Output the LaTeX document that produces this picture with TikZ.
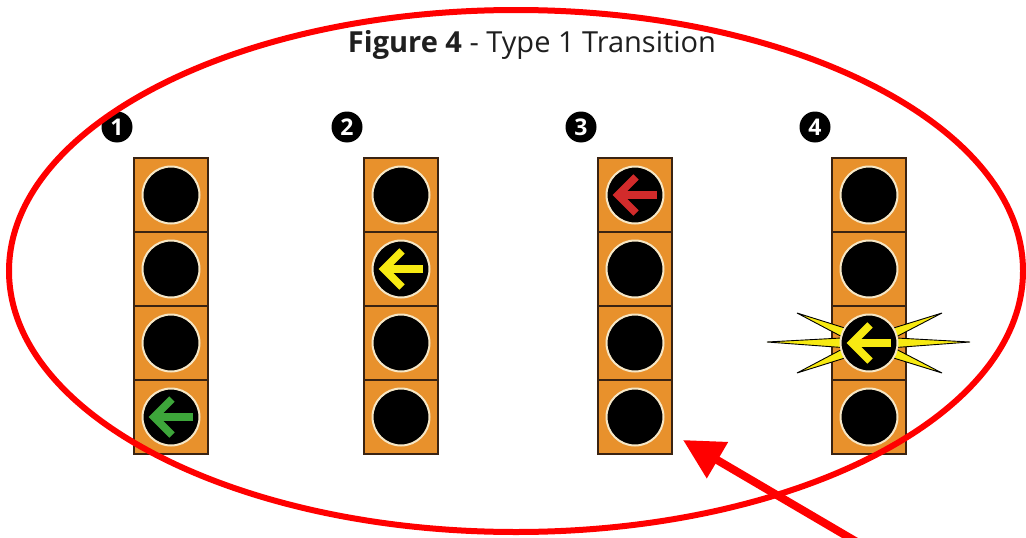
\documentclass[tikz,border=0pt]{standalone}
\usepackage{fontspec}
\setmainfont{Open Sans}
\usetikzlibrary{arrows.meta,calc,shapes.geometric}
\definecolor{sigorange}{HTML}{E8912C}
\definecolor{boxbrown}{HTML}{3A2312}
\definecolor{lampring}{HTML}{F6E7C6}
\definecolor{arrgreen}{HTML}{3DA63A}
\definecolor{arryellow}{HTML}{F7EA12}
\definecolor{arrred}{HTML}{D22B2B}
\definecolor{markred}{HTML}{FF0000}
\tikzset{
  headbox/.style={draw=boxbrown, fill=sigorange, line width=1.6pt, minimum size=74pt, inner sep=0pt, outer sep=0pt},
  lamp/.style={circle, fill=black, draw=lampring, line width=2pt, minimum size=57pt, inner sep=0pt},
  badge/.style={circle, fill=black, minimum size=31pt, inner sep=0pt, text=white, font=\fontsize{23}{23}\selectfont\bfseries},
  larrow/.style={line width=7.5pt, line cap=butt, line join=miter},
  spike/.style={fill=arryellow, draw=black, line width=0.9pt, line join=miter},
  redline/.style={draw=markred, line width=6pt},
}
\begin{document}
\begin{tikzpicture}[x=1pt,y=-1pt]
\useasboundingbox (0,0) rectangle (1026,538);
\fill[white] (0,0) rectangle (1026,538);
\node[font=\fontsize{29}{29}\selectfont, text=black!88] (title) at (532,45) {\textbf{Figure 4} - Type 1 Transition};
\foreach \h/\x in {1/171,2/401,3/635,4/869} {
  \foreach \k/\y in {1/195,2/269,3/343,4/417} {
    \node[headbox] (b\h\k) at (\x,\y) {};
  }
  \node[badge] (n\h) at (\x-54,127) {\h};
}
% burst on head 4, third lamp
\coordinate (bc) at (b43.center);
\foreach \tx/\ty in {-102/-1, 101/-1, -72/-30, -72/30, 73/-30, 73/30} {
  \coordinate (tp) at ($(bc)+(\tx,\ty)$);
  \path[spike] ($(bc)!24pt!12:(tp)$) -- (tp) -- ($(bc)!24pt!-12:(tp)$) -- cycle;
}
\foreach \h in {1,2,3,4} {
  \foreach \k in {1,2,3,4} {
    \node[lamp] (l\h\k) at (b\h\k) {};
  }
}
% arrows in lamps
\foreach \l/\c in {l14/arrgreen, l22/arryellow, l31/arrred, l43/arryellow} {
  \draw[larrow, draw=\c] ($(\l)+(22,0)$) -- ($(\l)+(-17,0)$);
  \draw[larrow, draw=\c] ($(\l)+(1,-18)$) -- ($(\l)+(-17,0)$) -- ($(\l)+(1,18)$);
}
% red annotation
\node[draw=markred, line width=6pt, ellipse, minimum width=1014pt, minimum height=522pt, inner sep=0pt] (ring) at (516,271) {};
\coordinate (arrtail) at (862,545);
\coordinate (arrtip) at (683,440);
\draw[redline, line width=8pt, -{Triangle[length=40pt, width=40pt]}] (arrtail) -- (arrtip);
\end{tikzpicture}
\end{document}
